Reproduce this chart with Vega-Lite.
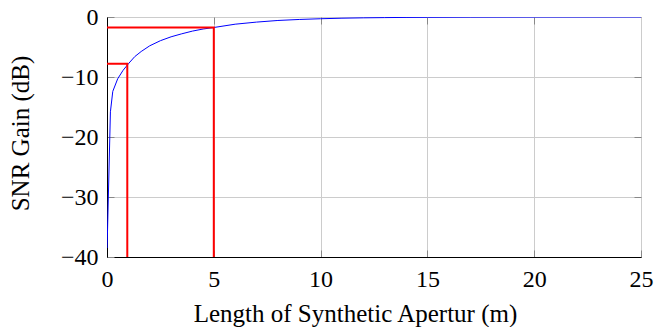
{
  "$schema": "https://vega.github.io/schema/vega-lite/v6.json",
  "width": 534,
  "height": 240,
  "autosize": {"type": "none"},
  "padding": {"left": 107, "top": 17, "right": 13, "bottom": 70},
  "config": {
    "view": {"stroke": "black", "strokeWidth": 1},
    "font": "'Liberation Serif', 'DejaVu Serif', serif",
    "axis": {
      "labelFont": "'Liberation Serif', 'DejaVu Serif', serif",
      "titleFont": "'Liberation Serif', 'DejaVu Serif', serif",
      "labelFontSize": 24,
      "titleFontSize": 25,
      "titleFontWeight": "normal",
      "labelColor": "black",
      "titleColor": "black",
      "domainColor": "black",
      "gridColor": "#cccccc",
      "gridWidth": 1,
      "tickColor": "#888888",
      "tickSize": -7,
      "labelPadding": 16,
      "labelFlush": false,
      "labelOverlap": false
    }
  },
  "datasets": {
    "curve": [
      {"L": 0.005, "G": -38.5},
      {"L": 0.16, "G": -15.8},
      {"L": 0.27, "G": -12.4},
      {"L": 0.5, "G": -10.3},
      {"L": 0.75, "G": -8.9},
      {"L": 1.0, "G": -7.8},
      {"L": 1.3, "G": -6.6},
      {"L": 1.6, "G": -5.75},
      {"L": 2.0, "G": -4.8},
      {"L": 2.5, "G": -3.95},
      {"L": 3.0, "G": -3.3},
      {"L": 3.5, "G": -2.8},
      {"L": 4.0, "G": -2.35},
      {"L": 4.5, "G": -2.0},
      {"L": 5.0, "G": -1.75},
      {"L": 6.0, "G": -1.2},
      {"L": 7.0, "G": -0.85},
      {"L": 8.0, "G": -0.58},
      {"L": 9.0, "G": -0.41},
      {"L": 10.0, "G": -0.29},
      {"L": 11.0, "G": -0.2},
      {"L": 12.0, "G": -0.14},
      {"L": 13.0, "G": -0.1},
      {"L": 14.0, "G": -0.07},
      {"L": 15.0, "G": -0.05},
      {"L": 17.0, "G": -0.025},
      {"L": 20.0, "G": -0.01},
      {"L": 25.0, "G": 0}
    ],
    "marks": [
      {"id": "a", "k": 1, "L": 0, "G": -7.8},
      {"id": "a", "k": 2, "L": 0.95, "G": -7.8},
      {"id": "a", "k": 3, "L": 0.95, "G": -40},
      {"id": "b", "k": 1, "L": 0, "G": -1.75},
      {"id": "b", "k": 2, "L": 5, "G": -1.75},
      {"id": "b", "k": 3, "L": 5, "G": -40}
    ]
  },
  "layer": [
    {
      "data": {"name": "curve"},
      "mark": {"type": "line", "color": "#0000ff", "strokeWidth": 1, "clip": true},
      "encoding": {
        "x": {
          "field": "L", "type": "quantitative",
          "scale": {"domain": [0, 25], "nice": false},
          "axis": {"orient": "bottom", "values": [0, 5, 10, 15, 20, 25], "title": "Length of Synthetic Apertur (m)", "titlePadding": 10, "labelPadding": 17, "titleX": 248}
        },
        "y": {
          "field": "G", "type": "quantitative",
          "scale": {"domain": [-40, 0], "nice": false},
          "axis": {"orient": "left", "values": [-40, -30, -20, -10, 0], "title": "SNR Gain (dB)", "titlePadding": 27, "titleY": 116}
        }
      }
    },
    {
      "data": {"name": "marks"},
      "mark": {"type": "line", "color": "#ff0000", "strokeWidth": 2},
      "encoding": {
        "x": {
          "field": "L", "type": "quantitative",
          "scale": {"domain": [0, 25], "nice": false},
          "axis": {"orient": "top", "values": [5, 10, 15, 20], "labels": false, "grid": false, "title": null, "domain": false}
        },
        "y": {
          "field": "G", "type": "quantitative",
          "scale": {"domain": [-40, 0], "nice": false},
          "axis": {"orient": "right", "values": [-30, -20, -10], "labels": false, "grid": false, "title": null, "domain": false}
        },
        "detail": {"field": "id"},
        "order": {"field": "k"}
      }
    }
  ],
  "resolve": {"axis": {"x": "independent", "y": "independent"}}
}
